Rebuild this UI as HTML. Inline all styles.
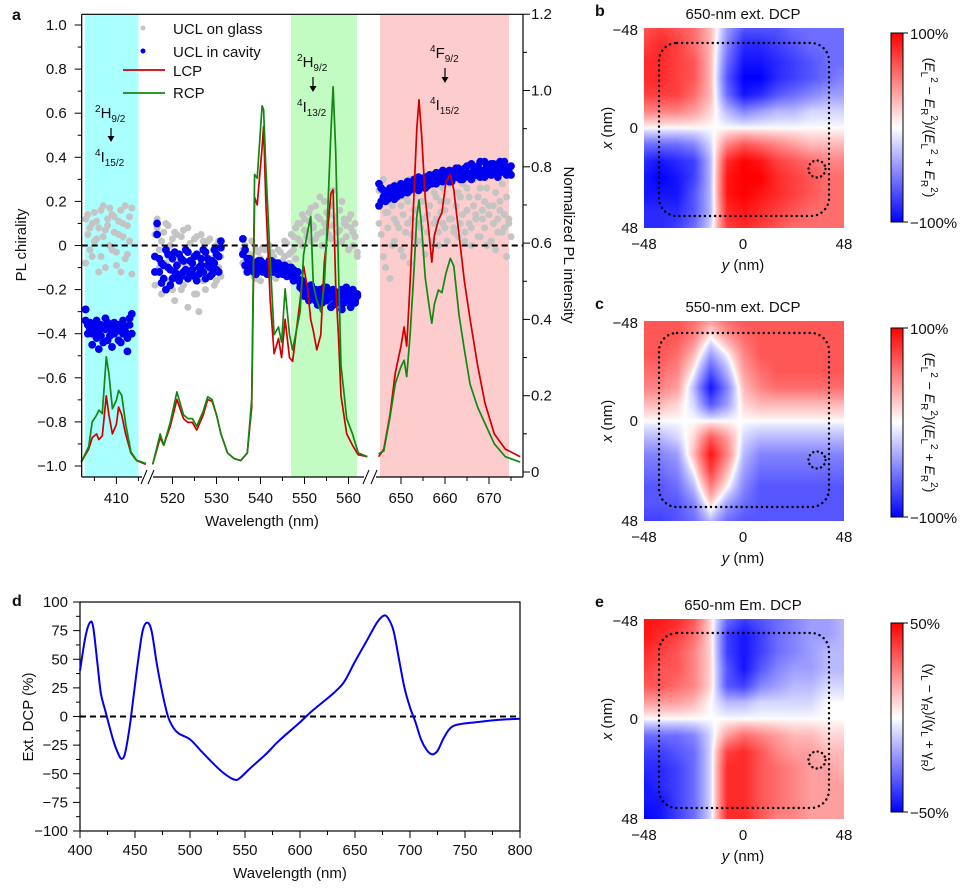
<!DOCTYPE html>
<html><head><meta charset="utf-8">
<style>
html,body{margin:0;padding:0;background:#fff;}
#wrap{position:relative;width:971px;height:892px;overflow:hidden;font-family:"Liberation Sans",Arial,sans-serif;}
canvas{position:absolute;}
svg{position:absolute;left:0;top:0;}
</style></head>
<body>
<div id="wrap">
<canvas id="hb" width="200" height="200" style="left:644px;top:28px"></canvas>
<canvas id="hc" width="200" height="200" style="left:644px;top:321px"></canvas>
<canvas id="he" width="200" height="200" style="left:644px;top:619px"></canvas>
<svg id="s" width="971" height="892" xmlns="http://www.w3.org/2000/svg">
<defs>
<linearGradient id="cb" x1="0" y1="0" x2="0" y2="1"><stop offset="0" stop-color="#ff0000"/><stop offset="0.5" stop-color="#ffffff"/><stop offset="1" stop-color="#0000ff"/></linearGradient>
</defs>
</svg>
</div>
<script>
// ---------- Panel a data ----------
const seg1Lambda=[402.0,403.7,404.5,405.5,406.0,406.8,407.7,408.3,409.1,410.0,410.5,411.2,412.1,413.3,414.6,416.7];
const seg1RCP=[0.026,0.066,0.131,0.149,0.162,0.153,0.302,0.258,0.166,0.188,0.214,0.201,0.127,0.053,0.031,0.022];
const seg1LCP=[0.026,0.06,0.09,0.10,0.085,0.095,0.20,0.15,0.10,0.125,0.17,0.15,0.10,0.05,0.03,0.02];
const seg2Lambda=[515.5,517.2,518,519.5,521,522.5,523.5,524.5,525.5,527,528,529,530,531,532.5,534,535.5,537,538,538.66,539.26,540.36,540.7,541.2,542.2,543.1,544.1,544.8,545.6,546.6,547.3,549.0,549.8,550.7,551.4,552.0,552.8,553.7,554.5,555.1,556.0,556.5,557.1,557.7,558.3,559.6,560.9,562.2,564.3];
const seg2RCP=[0.02,0.10,0.07,0.13,0.21,0.15,0.14,0.14,0.12,0.16,0.197,0.19,0.15,0.10,0.05,0.035,0.03,0.05,0.19,0.78,0.77,0.96,0.95,0.80,0.556,0.36,0.38,0.34,0.48,0.36,0.32,0.42,0.57,0.63,0.67,0.49,0.45,0.42,0.49,0.63,0.89,1.01,0.84,0.54,0.28,0.14,0.10,0.05,0.04];
const seg2LCP=[0.02,0.09,0.07,0.12,0.19,0.14,0.13,0.13,0.11,0.15,0.19,0.185,0.15,0.10,0.05,0.035,0.03,0.05,0.17,0.72,0.70,0.85,0.906,0.71,0.45,0.31,0.35,0.30,0.40,0.30,0.29,0.45,0.54,0.48,0.40,0.37,0.32,0.36,0.55,0.61,0.73,0.74,0.49,0.36,0.20,0.10,0.07,0.045,0.04];
const seg3Lambda=[644.9,646.1,647.5,648.7,650.0,650.7,651.3,652.1,653.0,653.6,654.1,654.7,655.5,656.4,657.0,657.6,658.5,659.3,660.2,661.2,662.0,663.2,664.4,665.7,667.4,669.1,671.2,673.7,677.1];
const seg3RCP=[0.048,0.055,0.144,0.232,0.276,0.293,0.25,0.363,0.538,0.67,0.713,0.64,0.51,0.433,0.39,0.44,0.477,0.47,0.52,0.56,0.54,0.41,0.32,0.23,0.17,0.127,0.074,0.04,0.026];
const seg3LCP=[0.04,0.06,0.15,0.26,0.33,0.38,0.33,0.50,0.74,0.90,0.976,0.88,0.72,0.62,0.55,0.62,0.66,0.68,0.76,0.78,0.74,0.62,0.50,0.40,0.28,0.18,0.10,0.06,0.04];
// scatter: start wavelength, step 0.5 nm
const cav1Start=403.0;
const cav1A=[-.34,-.36,-.38,-.40,-.37,-.42,-.39,-.36,-.44,-.38,-.35,-.41,-.37,-.40,-.36,-.43,-.38,-.34,-.39,-.42,-.36,-.31];
const cav1B=[-.29,-.40,-.35,-.45,-.39,-.34,-.47,-.41,-.37,-.33,-.43,-.38,-.46,-.35,-.39,-.36,-.44,-.40,-.37,-.48,-.33,-.40];
const gls1A=[.12,.05,-.02,.10,.15,.03,.08,-.05,.18,.07,.12,.00,.14,.06,-.03,.11,.16,.04,-.06,.09,.13,.17];
const gls1B=[-.08,.14,.08,-.05,.02,.11,-.12,.16,.04,-.10,.09,.17,-.02,.13,-.09,.05,-.12,.10,.18,-.04,.02,-.13];
const cav2Start=516.0;
const cav2A=[-.05,.10,-.12,-.08,-.15,-.02,-.10,-.18,-.06,-.12,-.09,-.04,-.14,-.07,-.11,-.03,-.13,-.08,-.05,-.16,-.10,-.06,-.12,-.03,-.09,-.14,-.07,-.02,-.11,-.05,.02];
const cav2B=[-.12,.05,-.06,-.17,-.09,-.20,-.04,-.11,-.15,-.03,-.13,-.16,-.06,-.12,-.02,-.15,-.07,-.11,-.14,-.04,-.13,-.09,-.02,-.15,-.06,-.10,-.13,-.08,-.04,-.12,-.01];
const gls2A=[.05,.08,-.10,.02,-.15,.10,-.05,.00,-.20,.06,-.12,-.08,.04,-.18,-.02,.08,-.14,-.06,.03,-.22,-.10,.05,-.16,-.04,.02,-.12,-.08,-.18,.00,-.10,-.05];
const gls2B=[-.18,.12,-.02,-.22,.06,-.08,.09,-.16,.03,-.25,.05,-.14,-.20,.07,-.10,-.28,.01,-.12,-.22,.04,-.30,-.08,.02,-.20,-.14,.03,-.06,-.12,-.16,.02,-.14];
const cav3Start=536.0;
const cav3A=[.03,-.02,-.06,-.10,-.08,-.12,-.09,-.07,-.11,-.08,-.10,-.13,-.09,-.07,-.12,-.10,-.08,-.11,-.13,-.09,-.12,-.10,-.14,-.11,-.15,-.12,-.17,-.20,-.18,-.22,-.19,-.24,-.21,-.25,-.22,-.20,-.26,-.23,-.19,-.24,-.22,-.27,-.21,-.25,-.23,-.20,-.26,-.24,-.22,-.28,-.21,-.25,-.23];
const cav3B=[-.04,-.09,-.12,-.06,-.11,-.08,-.13,-.10,-.07,-.12,-.09,-.11,-.07,-.12,-.10,-.08,-.13,-.09,-.11,-.10,-.14,-.12,-.10,-.16,-.13,-.15,-.19,-.16,-.23,-.20,-.25,-.18,-.23,-.20,-.27,-.24,-.21,-.19,-.25,-.22,-.28,-.20,-.24,-.22,-.26,-.29,-.21,-.19,-.25,-.23,-.20,-.26,-.22];
const gls3A=[-.02,-.10,-.05,-.12,.02,-.08,-.15,-.03,-.06,-.12,-.02,-.09,.00,-.14,-.05,-.08,-.11,-.03,-.07,.02,-.10,-.04,.05,-.02,.08,.03,.10,.00,.12,.06,.15,.02,.09,.18,.05,.12,.00,.20,.08,.14,.03,.25,.10,.06,.16,.02,.12,.09,-.02,.14,.06,.04,-.03];
const gls3B=[-.08,.00,-.12,-.04,-.09,-.14,-.02,-.10,-.16,-.01,-.08,-.13,-.06,-.03,-.11,-.15,-.02,-.09,-.12,-.05,.01,-.08,-.03,.04,-.06,.10,.02,.14,.07,.04,.11,.17,.08,.03,.13,.22,.06,.10,.15,.05,.18,.09,.13,.01,.07,.20,.10,.04,.12,.08,.00,.10,-.05];
const cav4Start=645.0;
const cav4A=[.18,.26,.22,.20,.24,.22,.25,.21,.24,.26,.23,.27,.25,.24,.28,.26,.30,.27,.25,.29,.28,.31,.27,.30,.29,.32,.28,.30,.33,.29,.31,.30,.34,.29,.32,.31,.35,.30,.33,.31,.36,.32,.30,.34,.33,.36,.31,.34,.38,.33,.35,.32,.37,.34,.36,.33,.35,.38,.32,.34,.36];
const cav4B=[.28,.20,.25,.23,.21,.26,.23,.27,.22,.25,.28,.24,.27,.29,.25,.28,.26,.29,.31,.27,.30,.26,.29,.32,.28,.31,.33,.29,.31,.34,.30,.32,.29,.33,.31,.35,.32,.34,.30,.35,.33,.31,.37,.34,.32,.35,.38,.33,.31,.36,.34,.37,.33,.35,.31,.38,.34,.36,.33,.35,.32];
const gls4A=[.25,.05,.30,-.10,.15,.20,.00,.12,.28,.08,.18,-.05,.22,.10,.30,.05,.16,.24,.02,.20,.12,.28,.06,.18,.32,.10,.22,.00,.15,.26,.08,.20,.12,.34,.06,.18,.24,.10,.28,.02,.16,.22,.08,.30,.14,.04,.26,.12,.20,.00,.18,.32,.10,.24,.06,.16,.28,.08,.22,.12,.36];
const gls4B=[.10,.20,-.05,.15,.08,-.15,.18,.02,.10,.22,-.02,.14,.06,.20,-.08,.12,.04,.16,.10,.08,.20,-.04,.14,.18,.02,.24,.12,.06,.20,.10,.16,.02,.28,.12,.08,.18,.04,.22,.14,.06,.26,.10,.00,.18,.12,.22,.04,.16,.08,.26,.14,.02,.18,-.02,.12,.20,.06,.14,-.05,.10,.04];
const chiralityTicks=[-1.0,-0.8,-0.6,-0.4,-0.2,0,0.2,0.4,0.6,0.8,1.0];
const chiralityTickLabels=["\u22121.0","\u22120.8","\u22120.6","\u22120.4","\u22120.2","0","0.2","0.4","0.6","0.8","1.0"];
const intensityTicks=[0,0.2,0.4,0.6,0.8,1.0,1.2];
const intensityTickLabels=["0","0.2","0.4","0.6","0.8","1.0","1.2"];
const seg1Ticks=[410], seg2Ticks=[520,530,540,550,560], seg3Ticks=[650,660,670];
// ---------- Panel d data ----------
const dLambda=[400,405,409,412,416,419,423,430,435,438,441,445,449,453,457,461,465,470,475,480,485,490,500,510,520,530,540,545,555,570,580,600,610,620,630,640,650,660,670,676,680,685,690,695,700,705,710,715,720,725,730,735,740,750,760,780,800];
const dDCP=[40,70,82,78,45,20,5,-20,-33,-37,-32,-10,20,50,75,82,75,45,20,0,-10,-15,-20,-30,-40,-49,-55,-54,-45,-32,-22,-5,4,12,20,30,48,65,82,88,86,75,50,25,8,-5,-20,-29,-33,-30,-20,-12,-8,-6,-5,-3,-2];
const dYTicks=[-100,-75,-50,-25,0,25,50,75,100];
const dXTicks=[400,450,500,550,600,650,700,750,800];
// ---------- Heatmap grids (rows x=-48..48, cols y=-48..48, step 8, values x10) ----------
const gridB=[
"6 7 6 5 2 -3 -6 -6 -6 -5 -5 -5 -5","7 8 7 5 2 -4 -8 -8 -7 -6 -5 -5 -5","8 8 7 6 2 -5 -9 -9 -8 -7 -6 -5 -5",
"8 8 7 6 2 -6 -10 -10 -8 -7 -6 -5 -4","7 7 7 5 2 -5 -9 -8 -6 -5 -4 -3 -3","4 4 4 3 1 -2 -4 -3 -2 -2 -1 -1 -1",
"0 0 0 0 0 0 0 0 0 0 0 0 0","-5 -5 -5 -4 -1 4 6 5 4 3 2 2 2","-8 -9 -8 -7 -2 8 10 9 7 6 5 4 4",
"-9 -10 -9 -7 -2 9 10 10 8 7 6 5 5","-9 -9 -9 -6 -2 9 10 9 8 7 6 5 5","-8 -8 -8 -6 -2 8 9 8 7 6 5 5 5","-8 -8 -7 -5 -1 7 8 7 6 5 5 5 5"];
const gridC=[
"6 6 6 5 3 5 6 6 6 6 6 6 6","6 6 6 4 0 3 5 6 6 6 6 6 6","6 6 5 2 -3 0 4 6 6 6 6 6 6",
"5 5 4 0 -6 -2 3 5 6 6 6 6 6","4 4 3 -2 -9 -4 2 4 5 5 5 5 5","2 2 1 -1 -6 -3 1 2 2 2 2 2 2",
"0 0 0 0 0 0 0 0 0 0 0 0 0","-2 -2 -1 1 6 3 -1 -2 -2 -2 -2 -2 -2","-4 -4 -3 2 9 4 -2 -4 -4 -4 -4 -4 -4",
"-5 -5 -4 0 7 2 -3 -5 -5 -5 -5 -5 -5","-6 -6 -5 -2 4 0 -4 -6 -6 -6 -6 -6 -6","-6 -6 -6 -4 1 -3 -5 -6 -6 -6 -6 -6 -6","-7 -7 -6 -5 -2 -5 -6 -6 -6 -6 -6 -6 -6"];
const gridE=[
"9 9 8 6 1 -5 -7 -6 -5 -4 -3 -3 -2","9 8 7 5 1 -7 -9 -7 -5 -4 -3 -3 -2","8 7 6 4 1 -7 -9 -7 -5 -4 -3 -2 -2",
"7 6 6 4 1 -6 -9 -6 -4 -3 -3 -2 -2","6 6 5 4 1 -6 -7 -4 -3 -2 -2 -1 -1","3 3 3 2 0 -2 -2 -1 -1 -1 -1 0 0",
"0 0 0 0 0 0 0 0 0 0 0 0 0","-5 -5 -5 -4 -1 3 5 4 3 2 2 1 1","-7 -7 -6 -5 -1 7 8 6 4 3 3 2 2",
"-8 -8 -7 -5 -1 8 8 6 5 4 3 3 2","-9 -8 -7 -5 -1 8 8 6 5 4 3 3 3","-9 -9 -7 -5 -1 8 8 6 5 4 3 3 3","-10 -9 -7 -5 -1 8 8 6 4 4 3 3 3"];

const svg=document.getElementById('s');
const NS='http://www.w3.org/2000/svg';
function mk(tag,attrs,parent){const e=document.createElementNS(NS,tag);for(const k in attrs)e.setAttribute(k,attrs[k]);(parent||svg).appendChild(e);return e;}
function txt(x,y,s,size,anchor,parent,extra){const t=mk('text',Object.assign({x:x,y:y,'font-size':size||15,'text-anchor':anchor||'middle','font-family':'Liberation Sans, Arial, sans-serif',fill:'#111'},extra||{}),parent);t.textContent=s;return t;}
function smoothPath(pts){let d='M'+pts[0][0].toFixed(1)+','+pts[0][1].toFixed(1);
 for(let i=0;i<pts.length-1;i++){const p0=pts[Math.max(0,i-1)],p1=pts[i],p2=pts[i+1],p3=pts[Math.min(pts.length-1,i+2)];
  const c1x=p1[0]+(p2[0]-p0[0])/6,c1y=p1[1]+(p2[1]-p0[1])/6,c2x=p2[0]-(p3[0]-p1[0])/6,c2y=p2[1]-(p3[1]-p1[1])/6;
  d+=`C${c1x.toFixed(1)},${c1y.toFixed(1)} ${c2x.toFixed(1)},${c2y.toFixed(1)} ${p2[0].toFixed(1)},${p2[1].toFixed(1)}`;}
 return d;}

// ---------- Panel a ----------
const L=81.7,R=523,T=14.3,B=477;
const k=4.4;
const X1=l=>116.4+(l-410)*k, X2=l=>172.5+(l-520)*k, X3=l=>401+(l-650)*k;
const yC=v=>245.5-220.5*v;
const yI=v=>472-381.5*v;
const ga=mk('g',{});


let r;
r=mk('rect',{x:X1(402.8),y:T,width:X1(415.0)-X1(402.8),height:B-T,fill:'#aaffff'},ga);

r=mk('rect',{x:291,y:T,width:66,height:B-T,fill:'#c2fcc2'},ga);

r=mk('rect',{x:380,y:T,width:509-380,height:B-T,fill:'#fdcccc'},ga);


function scatter(start,vals,X,color,rad,name){
  vals.forEach((v,i)=>{const c=mk('circle',{cx:X(start+i*0.5),cy:yC(v),r:rad,fill:color},ga);
  
  });
}
const G='#c4c4c4',BL='#0000f0';
[[cav1Start,gls1A,X1],[cav1Start,gls1B,X1],[cav2Start,gls2A,X2],[cav2Start,gls2B,X2],[cav3Start,gls3A,X2],[cav3Start,gls3B,X2],[cav4Start,gls4A,X3],[cav4Start,gls4B,X3]].forEach(a=>scatter(a[0],a[1],a[2],G,3.5,'glass-point'));
[[cav1Start,cav1A,X1],[cav1Start,cav1B,X1],[cav2Start,cav2A,X2],[cav2Start,cav2B,X2],[cav3Start,cav3A,X2],[cav3Start,cav3B,X2],[cav4Start,cav4A,X3],[cav4Start,cav4B,X3]].forEach(a=>scatter(a[0],a[1],a[2],BL,3.9,'cavity-point'));

let z=mk('line',{x1:L,x2:R,y1:yC(0),y2:yC(0),stroke:'#000','stroke-width':2,'stroke-dasharray':'6,4'},ga);


function curve(ls,vs,X,color,name){
  const d=ls.map((l,i)=>(i?'L':'M')+X(l).toFixed(1)+','+yI(vs[i]).toFixed(1)).join('');
  const p=mk('path',{d:d,fill:'none',stroke:color,'stroke-width':1.7,'stroke-linejoin':'round'},ga);
  
}
const RED='#d00000',GRN='#118811';
curve(seg1Lambda,seg1LCP,X1,RED,'lcp-curve');curve(seg2Lambda,seg2LCP,X2,RED,'lcp-curve');curve(seg3Lambda,seg3LCP,X3,RED,'lcp-curve');
curve(seg1Lambda,seg1RCP,X1,GRN,'rcp-curve');curve(seg2Lambda,seg2RCP,X2,GRN,'rcp-curve');curve(seg3Lambda,seg3RCP,X3,GRN,'rcp-curve');

// axes frame
mk('line',{x1:L,x2:R,y1:T,y2:T,stroke:'#000','stroke-width':1.2},ga);
mk('line',{x1:L,x2:L,y1:T,y2:B,stroke:'#000','stroke-width':1.2},ga);
mk('line',{x1:R,x2:R,y1:T,y2:B,stroke:'#000','stroke-width':1.2},ga);
mk('line',{x1:L,x2:R,y1:B,y2:B,stroke:'#000','stroke-width':1.2},ga);
// breaks
[[145,150],[367,373]].forEach(b=>{
  mk('rect',{x:b[0]-3,y:B-3,width:b[1]-b[0]+6,height:6,fill:'#fff'},ga);
  mk('line',{x1:b[0]-4,y1:B+7,x2:b[0]+2,y2:B-7,stroke:'#000','stroke-width':1},ga);
  mk('line',{x1:b[1]-2,y1:B+7,x2:b[1]+4,y2:B-7,stroke:'#000','stroke-width':1},ga);
});
chiralityTicks.forEach((v,i)=>{mk('line',{x1:L-7,x2:L,y1:yC(v),y2:yC(v),stroke:'#000'},ga);
 const t=txt(L-15,yC(v)+5,chiralityTickLabels[i],15,'end',ga);
 if(v<1) mk('line',{x1:L-4,x2:L,y1:yC(v+0.1),y2:yC(v+0.1),stroke:'#000'},ga);});
intensityTicks.forEach((v,i)=>{mk('line',{x1:R,x2:R+7,y1:yI(v),y2:yI(v),stroke:'#000'},ga);
 const t=txt(R+8,yI(v)+5,intensityTickLabels[i],15,'start',ga);
 if(v<1.2) mk('line',{x1:R,x2:R+4,y1:yI(v+0.1),y2:yI(v+0.1),stroke:'#000'},ga);});
function xt(list,X,minors){list.forEach(v=>{mk('line',{x1:X(v),x2:X(v),y1:B,y2:B+7,stroke:'#000'},ga);
 const t=txt(X(v),B+26,String(v),15,'middle',ga);});
 minors.forEach(v=>mk('line',{x1:X(v),x2:X(v),y1:B,y2:B+4,stroke:'#000'},ga));}
xt(seg1Ticks,X1,[405,415]);xt(seg2Ticks,X2,[525,535,545,555]);xt(seg3Ticks,X3,[655,665,675]);
let tt=txt(262,526,'Wavelength (nm)',15,'middle',ga);
tt=txt(0,0,'PL chirality',15,'middle',ga,{transform:'translate(26,245) rotate(-90)'});
tt=txt(0,0,'Normalized PL intensity',15,'middle',ga,{transform:'translate(564,245) rotate(90)'});
tt=txt(12,20,'a',16,'start',ga,{'font-weight':'bold'});
// legend
const lg=mk('g',{},ga);
mk('circle',{cx:143,cy:28,r:2.5,fill:G},lg);txt(173,34,'UCL on glass',15,'start',lg);
mk('circle',{cx:143,cy:51,r:2.5,fill:BL},lg);txt(173,57,'UCL in cavity',15,'start',lg);
mk('line',{x1:123,x2:165,y1:70,y2:70,stroke:RED,'stroke-width':1.7},lg);txt(173,76,'LCP',15,'start',lg);
mk('line',{x1:123,x2:165,y1:93,y2:93,stroke:GRN,'stroke-width':1.7},lg);txt(173,98,'RCP',15,'start',lg);
// annotations
function level(x,y,sup,main,sub,parent){const t=mk('text',{x:x,y:y,'font-size':15,'font-family':'Liberation Sans, Arial, sans-serif',fill:'#111'},parent);
 const a=mk('tspan',{'font-size':10,dy:-6},t);a.textContent=sup;
 const b=mk('tspan',{dy:6},t);b.textContent=main;
 const c=mk('tspan',{'font-size':10,dy:4},t);c.textContent=sub;return t;}
function arrow(x,y1,y2,parent){mk('line',{x1:x,x2:x,y1:y1,y2:y2-4,stroke:'#000','stroke-width':1.2},parent);
 mk('path',{d:`M${x-3.5},${y2-6}L${x+3.5},${y2-6}L${x},${y2}Z`,fill:'#000'},parent);}
const an=mk('g',{},ga);
level(95,118,'2','H','9/2',an);arrow(111,128,142,an);level(95,162,'4','I','15/2',an);
level(297,67,'2','H','9/2',an);arrow(313,77,92,an);level(297,112,'4','I','13/2',an);
level(430,58,'4','F','9/2',an);arrow(445,68,83,an);level(430,110,'4','I','15/2',an);

// ---------- Panel d ----------
const gd=mk('g',{});


const dL=80,dR=520,dT=602,dB=831;
const xd=l=>dL+(l-400)/400*(dR-dL);
const yd=v=>dT+(100-v)/200*(dB-dT);
mk('rect',{x:dL,y:dT,width:dR-dL,height:dB-dT,fill:'none',stroke:'#000','stroke-width':1.2},gd);
z=mk('line',{x1:dL,x2:dR,y1:yd(0),y2:yd(0),stroke:'#000','stroke-width':2,'stroke-dasharray':'6,4'},gd);

dYTicks.forEach(v=>{mk('line',{x1:dL-7,x2:dL,y1:yd(v),y2:yd(v),stroke:'#000'},gd);
 const t=txt(dL-12,yd(v)+5,v<0?'\u2212'+(-v):String(v),15,'end',gd);
 if(v<100) mk('line',{x1:dL-4,x2:dL,y1:yd(v+12.5),y2:yd(v+12.5),stroke:'#000'},gd);});
dXTicks.forEach(v=>{mk('line',{x1:xd(v),x2:xd(v),y1:dB,y2:dB+7,stroke:'#000'},gd);
 const t=txt(xd(v),dB+24,String(v),15,'middle',gd);
 if(v<800) mk('line',{x1:xd(v+25),x2:xd(v+25),y1:dB,y2:dB+4,stroke:'#000'},gd);});
const dd=smoothPath(dLambda.map((l,i)=>[xd(l),yd(dDCP[i])]));
let p=mk('path',{d:dd,fill:'none',stroke:'#0000ee','stroke-width':2,'stroke-linejoin':'round'},gd);

tt=txt(290,878,'Wavelength (nm)',15,'middle',gd);
tt=txt(0,0,'Ext. DCP (%)',15,'middle',gd,{transform:'translate(33,717) rotate(-90)'});
tt=txt(12,606,'d',16,'start',gd,{'font-weight':'bold'});

// ---------- Heatmaps ----------
function paint(id,grid){
  const g=grid.map(s=>s.trim().split(/\s+/).map(Number));
  const cv=document.getElementById(id),ctx=cv.getContext('2d');
  const im=ctx.createImageData(200,200);
  for(let py=0;py<200;py++)for(let px=0;px<200;px++){
    const gy=(py+0.5)/200*12,gx=(px+0.5)/200*12;
    const i0=Math.min(11,Math.floor(gy)),j0=Math.min(11,Math.floor(gx));
    const fy=gy-i0,fx=gx-j0;
    let v=((g[i0][j0]*(1-fx)+g[i0][j0+1]*fx)*(1-fy)+(g[i0+1][j0]*(1-fx)+g[i0+1][j0+1]*fx)*fy)/10;
    v=Math.sign(v)*Math.pow(Math.abs(v),0.8);
    let rr,gg,bb;
    if(v>=0){rr=255;gg=bb=255*(1-Math.min(1,v));}else{bb=255;rr=gg=255*(1+Math.max(-1,v));}
    const o=(py*200+px)*4;im.data[o]=rr;im.data[o+1]=gg;im.data[o+2]=bb;im.data[o+3]=255;}
  ctx.putImageData(im,0,0);
}
paint('hb',gridB);paint('hc',gridC);paint('he',gridE);

function mapPanel(top,title,letter,cbTop,cbBot,cbHi,cbLo,label,dotTop,dotBot,circY,name){
  const g=mk('g',{});
  
  
  const mL=644,mR=844,mT=top,mB=top+200;
  let t=txt(595,mT-12,letter,16,'start',g,{'font-weight':'bold'});
  t=txt(743,mT-9,title,15,'middle',g);
  const rr=mk('rect',{x:659,y:dotTop,width:170,height:dotBot-dotTop,rx:18,ry:18,fill:'none',stroke:'#000','stroke-width':2.4,'stroke-dasharray':'0.1,5','stroke-linecap':'round'},g);
  
  mk('circle',{cx:817,cy:circY,r:8.5,fill:'none',stroke:'#000','stroke-width':2.4,'stroke-dasharray':'0.1,4.4','stroke-linecap':'round'},g);
  t=txt(638,mT+7,'\u221248',15,'end',g);t=txt(638,mT+105,'0',15,'end',g);t=txt(638,mB+5,'48',15,'end',g);
  txt(mL,mB+21,'\u221248',15,'middle',g);txt(743,mB+21,'0',15,'middle',g);txt(mR,mB+21,'48',15,'middle',g);
  const xl=mk('text',{'font-size':15,'text-anchor':'middle','font-family':'Liberation Sans, Arial, sans-serif',fill:'#111'},g);
  const a=mk('tspan',{'font-style':'italic',x:743,y:mB+42},xl);a.textContent='y';const b=mk('tspan',{},xl);b.textContent=' (nm)';
  
  const yl=mk('text',{'font-size':15,'text-anchor':'middle','font-family':'Liberation Sans, Arial, sans-serif',fill:'#111',transform:`translate(612,${mT+100}) rotate(-90)`},g);
  const c=mk('tspan',{'font-style':'italic'},yl);c.textContent='x';const d=mk('tspan',{},yl);d.textContent=' (nm)';
  
  const cb=mk('rect',{x:891,y:cbTop,width:12,height:cbBot-cbTop,fill:'url(#cb)',stroke:'#000','stroke-width':1},g);
  
  mk('line',{x1:903,x2:908,y1:cbTop,y2:cbTop,stroke:'#000'},g);mk('line',{x1:903,x2:908,y1:cbBot,y2:cbBot,stroke:'#000'},g);
  txt(910,cbTop+6,cbHi,15,'start',g);txt(910,cbBot+6,cbLo,15,'start',g);
  const cl=mk('text',{'font-size':14,'text-anchor':'middle','font-family':'Liberation Sans, Arial, sans-serif',fill:'#111',transform:`translate(925,${(cbTop+cbBot)/2}) rotate(90)`},g);
  
  label.forEach(s=>{const ts=mk('tspan',{},cl);if(s.i)ts.setAttribute('font-style','italic');if(s.dy)ts.setAttribute('dy',s.dy);if(s.fs)ts.setAttribute('font-size',s.fs);ts.textContent=s.t;});
}
const extLabel=[{t:'('},{t:'E',i:1},{t:'L',fs:10,dy:4},{t:'2',fs:10,dy:-10},{t:' \u2212 ',dy:6},{t:'E',i:1},{t:'R',fs:10,dy:4},{t:'2',fs:10,dy:-10},{t:')/(',dy:6},{t:'E',i:1},{t:'L',fs:10,dy:4},{t:'2',fs:10,dy:-10},{t:' + ',dy:6},{t:'E',i:1},{t:'R',fs:10,dy:4},{t:'2',fs:10,dy:-10},{t:')',dy:6}];
const emLabel=[{t:'(\u03b3'},{t:'L',fs:10,dy:4},{t:' \u2212 \u03b3',dy:-4},{t:'R',fs:10,dy:4},{t:')/(\u03b3',dy:-4},{t:'L',fs:10,dy:4},{t:' + \u03b3',dy:-4},{t:'R',fs:10,dy:4},{t:')',dy:-4}];
mapPanel(28,'650-nm ext. DCP','b',33,222,'100%','\u2212100%',extLabel,43,216,169,'panel-b');
mapPanel(321,'550-nm  ext. DCP','c',328,517,'100%','\u2212100%',extLabel,333,507,460,'panel-c');
mapPanel(619,'650-nm  Em. DCP','e',623,812,'50%','\u221250%',emLabel,633,808,760,'panel-e');
</script>
</body></html>
